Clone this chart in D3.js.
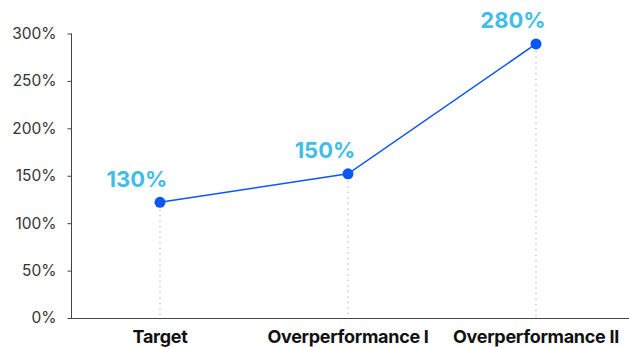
<!DOCTYPE html>
<html><head><meta charset="utf-8">
<script src="https://cdn.jsdelivr.net/npm/d3@7"></script>
<style>
html,body{margin:0;padding:0;background:#fff;}
svg{display:block;font-family:Inter, "Noto Sans", sans-serif;}
</style></head>
<body>
<svg id="chart" width="629" height="347"></svg>
<script>
const categories = ["Target", "Overperformance I", "Overperformance II"];
const values = [122, 152, 289];
const valueLabels = ["130%", "150%", "280%"];
const yTicks = [0, 50, 100, 150, 200, 250, 300];

const svg = d3.select("#chart");
const x = d3.scaleBand().domain(categories).range([66, 630]).padding(0);
const y = d3.scaleLinear().domain([0, 300]).range([318, 33.5]);
const cx = d => x(d) + x.bandwidth() / 2;

// y axis
const yAxis = svg.append("g").attr("transform", "translate(71.5,0)")
  .call(d3.axisLeft(y).tickValues(yTicks).tickFormat(d => d + "%").tickSize(4).tickPadding(11));
yAxis.select(".domain").attr("stroke", "#444").attr("d", `M0,${y(300)}V${y(0)}`);
yAxis.selectAll(".tick line").attr("stroke", "#444");
yAxis.selectAll(".tick text").attr("fill", "#333").style("font-size", "15.5px").style("font-family", "Inter");

// x axis
const xAxis = svg.append("g").attr("transform", `translate(0,${y(0) + 0.5})`)
  .call(d3.axisBottom(x).tickSize(0));
xAxis.select(".domain").attr("stroke", "#444").attr("d", `M71,0H629`);
xAxis.selectAll(".tick text").attr("fill", "#111").style("font-size", "18px")
  .style("font-weight", "700").style("font-family", "Inter")
  .attr("y", 24).attr("dy", 0)
  .style("letter-spacing", "-0.3px");

const data = categories.map((c, i) => ({c, v: values[i], label: valueLabels[i]}));

// dotted drop lines
svg.append("g").selectAll("line").data(data).join("line")
  .attr("x1", d => cx(d.c)).attr("x2", d => cx(d.c))
  .attr("y1", d => y(d.v) + 7).attr("y2", y(0))
  .attr("stroke", "#bbb").attr("stroke-width", 1.2).attr("stroke-dasharray", "1.5,4");

// line
svg.append("path").datum(data)
  .attr("fill", "none").attr("stroke", "#0a57f5").attr("stroke-width", 1.5)
  .attr("d", d3.line().x(d => cx(d.c)).y(d => y(d.v)));

// points
svg.append("g").selectAll("circle").data(data).join("circle")
  .attr("cx", d => cx(d.c)).attr("cy", d => y(d.v)).attr("r", 5.5)
  .attr("fill", "#0a57f5");

// labels
svg.append("g").selectAll("text").data(data).join("text")
  .attr("x", d => cx(d.c) - 23).attr("y", d => y(d.v) - 15.5)
  .attr("text-anchor", "middle")
  .attr("fill", "#42bde9").style("font-size", "22px").style("font-weight", "700")
  .style("font-family", "Inter")
  .text(d => d.label);
</script>
</body></html>
